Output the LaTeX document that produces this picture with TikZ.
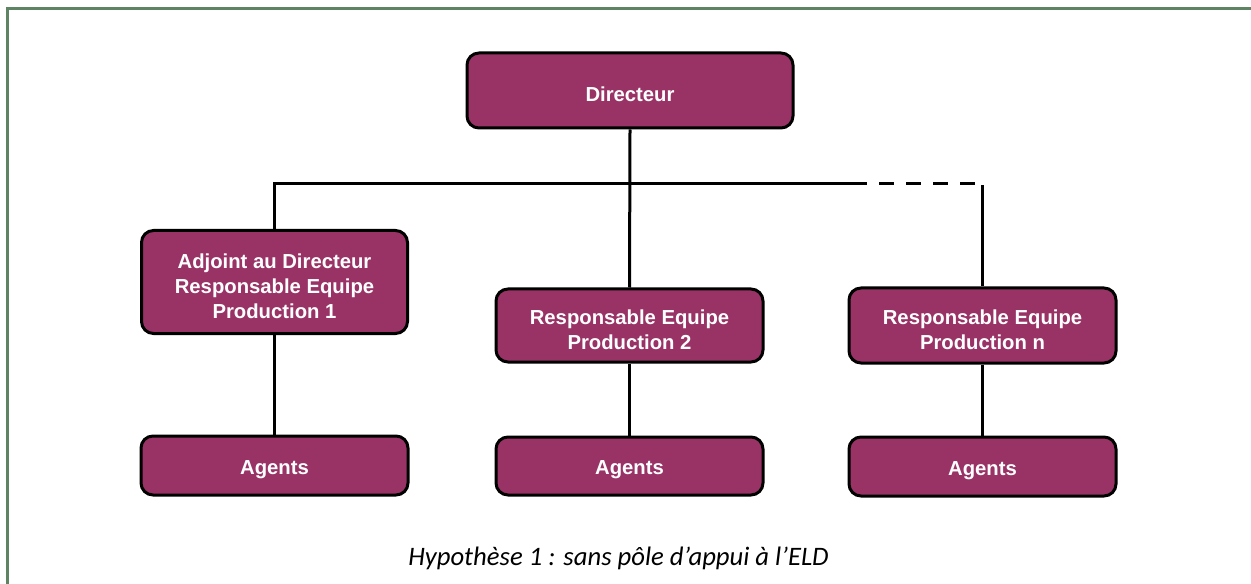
\documentclass[tikz,border=0pt]{standalone}
\usepackage{fontspec}
\usetikzlibrary{backgrounds}
\newfontfamily\boxfont{Liberation Sans}
\newfontfamily\capfont{Carlito}
\definecolor{plum}{RGB}{153,51,102}
\definecolor{framegreen}{RGB}{95,132,99}
\tikzset{
  orgbox/.style={draw=black, line width=2.25pt, fill=plum, rounded corners=9pt,
    inner sep=0pt},
  boxtext/.style={text=white, align=center, inner sep=0pt, yshift=-3pt,
    font=\boxfont\bfseries\fontsize{15.2pt}{18.75pt}\selectfont},
  link/.style={line width=2.25pt, draw=black},
}
\begin{document}
\begin{tikzpicture}[x=0.75pt, y=-0.75pt]
\useasboundingbox (0,0) rectangle (1251,584);
% open frame: top and left sides only
\draw[framegreen, line width=1.6pt] (7.5,584) -- (7.5,8.5) -- (1251,8.5);

% boxes
\node[orgbox, minimum width=244.5pt, minimum height=56.25pt,
  label={[boxtext]center:Directeur}] (dir) at (630,90.5) {};
\node[orgbox, minimum width=199.5pt, minimum height=77.25pt,
  label={[boxtext]center:{Adjoint au Directeur\\Responsable Equipe\\Production 1}}] (adj) at (274.5,282) {};
\node[orgbox, minimum width=200.25pt, minimum height=54.75pt,
  label={[boxtext]center:{Responsable Equipe\\Production 2}}] (rp2) at (629.5,325.5) {};
\node[orgbox, minimum width=200.25pt, minimum height=56.25pt,
  label={[boxtext]center:{Responsable Equipe\\Production n}}] (rpn) at (982.5,325.5) {};
\node[orgbox, minimum width=200.25pt, minimum height=44.25pt,
  label={[boxtext]center:Agents}] (ag1) at (274.5,465.5) {};
\node[orgbox, minimum width=200.25pt, minimum height=43.5pt,
  label={[boxtext]center:Agents}] (ag2) at (629.5,466) {};
\node[orgbox, minimum width=200.25pt, minimum height=44.25pt,
  label={[boxtext]center:Agents}] (agn) at (982.5,466.5) {};

% bus line
\coordinate (busL) at (274.5,184);
\coordinate (busS) at (852,184);
\coordinate (busR) at (982.5,184);

\begin{scope}[on background layer]
\draw[link] (dir.south) -- (rp2.north);
\draw[link] (adj.north) -- (busL) -- (busS);
\draw[link, dash pattern=on 11.25pt off 9pt] (busS) -- (busR);
\draw[link] ([yshift=-1pt]busR) -- (rpn.north);
\draw[link] (adj.south) -- (ag1.north);
\draw[link] (rp2.south) -- (ag2.north);
\draw[link] (rpn.south) -- (agn.north);
\end{scope}

% caption
\node[anchor=base, font=\capfont\itshape\fontsize{20pt}{24pt}\selectfont, inner sep=0pt] (cap) at (618.5,565)
  {Hypothèse 1 : sans pôle d’appui à l’ELD};
\end{tikzpicture}
\end{document}
